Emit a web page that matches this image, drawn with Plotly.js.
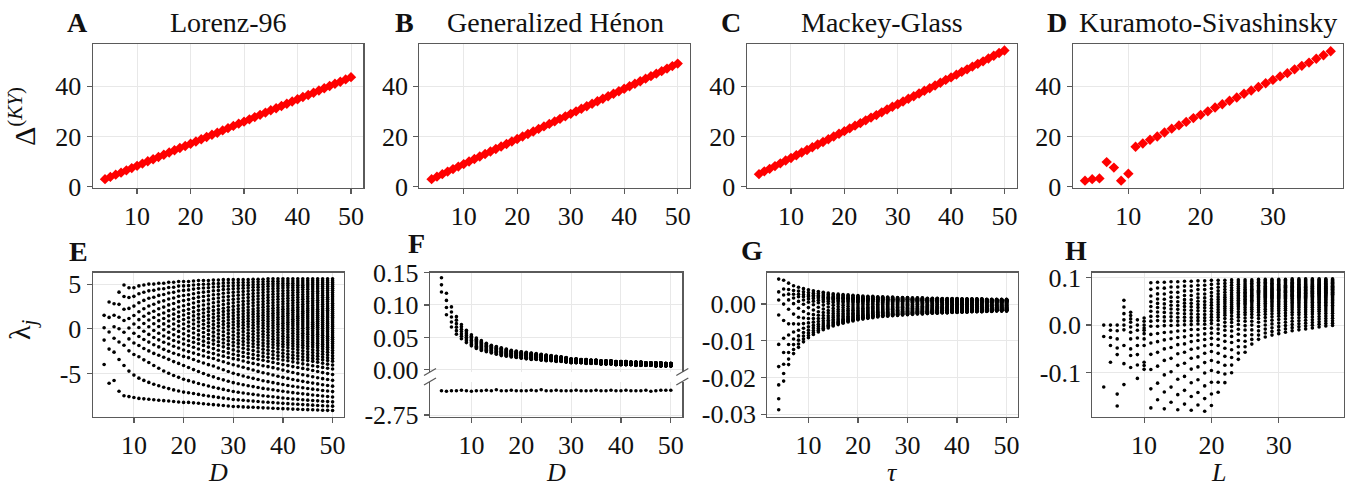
<!DOCTYPE html>
<html>
<head>
<meta charset="utf-8">
<script src="https://cdn.plot.ly/plotly-3.0.1.min.js"></script>
<style>html,body{margin:0;padding:0;background:#fff}#chart{width:1352px;height:489px}</style>
</head>
<body>
<div id="chart"></div>
<script>
// ---------------- DATA ----------------
const dims = [4,5,6,7,8,9,10,11,12,13,14,15,16,17,18,19,20,21,22,23,24,25,26,27,28,29,30,31,32,33,34,35,36,37,38,39,40,41,42,43,44,45,46,47,48,49,50];
const ksL = [4,5,6,7,8,9,10,11,12,13,14,15,16,17,18,19,20,21,22,23,24,25,26,27,28,29,30,31,32,33,34,35,36,37,38];

// Top row: Kaplan-Yorke dimension
const kyLorenz = [3.0,3.9,4.8,5.6,6.5,7.4,8.3,9.2,10.1,10.9,11.8,12.7,13.6,14.5,15.4,16.2,17.1,18.0,18.9,19.8,20.7,21.5,22.4,23.3,24.2,25.1,25.9,26.8,27.7,28.6,29.5,30.4,31.2,32.1,33.0,33.9,34.8,35.7,36.5,37.4,38.3,39.2,40.1,41.0,41.8,42.7,43.6];
const kyHenon = [3.0,4.0,5.0,6.0,7.0,8.0,9.0,10.0,11.0,12.0,13.0,14.0,15.0,16.0,17.0,18.0,19.0,20.0,21.0,22.0,23.0,24.0,25.0,26.0,27.0,28.0,29.0,30.0,31.0,32.0,33.0,34.0,35.0,36.0,37.0,38.0,39.0,40.0,41.0,42.0,43.0,44.0,45.0,46.0,47.0,48.0,49.0];
const kyMackey = [5.0,6.1,7.1,8.2,9.3,10.4,11.4,12.5,13.6,14.6,15.7,16.8,17.8,18.9,20.0,21.1,22.1,23.2,24.3,25.3,26.4,27.5,28.5,29.6,30.7,31.8,32.8,33.9,35.0,36.0,37.1,38.2,39.2,40.3,41.4,42.5,43.5,44.6,45.7,46.7,47.8,48.9,49.9,51.0,52.1,53.2,54.2];
const kyKS = [2.4,3.0,3.3,9.8,7.6,2.4,5.2,15.9,17.2,18.7,20.0,21.6,23.1,24.4,25.8,27.3,28.6,30.0,31.5,32.8,34.2,35.5,37.0,38.3,39.7,41.2,42.5,43.9,45.2,46.7,48.1,49.4,50.9,52.3,53.9];

// E: Lorenz-96 spectrum (largest / smallest exponent per D, spectrum shape)
const l96Max = [1.5,3.0,2.8,4.1,4.9,4.6,4.6,4.8,4.9,5.0,5.0,5.1,5.1,5.2,5.2,5.3,5.3,5.3,5.35,5.4,5.4,5.4,5.45,5.45,5.5,5.5,5.5,5.5,5.5,5.5,5.55,5.55,5.55,5.6,5.6,5.6,5.6,5.6,5.6,5.6,5.6,5.6,5.6,5.6,5.6,5.6,5.6];
const l96Min = [-4.0,-6.1,-5.8,-7.0,-7.5,-7.6,-7.7,-7.8,-7.85,-7.9,-7.95,-8.0,-8.05,-8.1,-8.15,-8.2,-8.25,-8.25,-8.3,-8.35,-8.4,-8.45,-8.5,-8.55,-8.6,-8.65,-8.7,-8.72,-8.75,-8.78,-8.8,-8.83,-8.86,-8.88,-8.9,-8.93,-8.95,-8.97,-9.0,-9.02,-9.04,-9.06,-9.08,-9.1,-9.12,-9.14,-9.15];
const l96ShapeU = [0,0.1,0.2,0.3,0.4,0.5,0.6,0.7,0.8,0.84,0.9,0.95,1.0];
const l96ShapeG = [0,0.07,0.15,0.23,0.3,0.37,0.45,0.53,0.63,0.69,0.82,0.92,1.0];

// F: generalized Henon spectrum (positive band top / bottom, negative exponent)
const henTop = [0.142,0.118,0.097,0.082,0.070,0.061,0.054,0.049,0.045,0.041,0.038,0.036,0.034,0.032,0.030,0.029,0.028,0.027,0.026,0.025,0.024,0.023,0.022,0.021,0.020,0.019,0.017,0.017,0.016,0.016,0.015,0.015,0.014,0.014,0.014,0.013,0.013,0.013,0.012,0.012,0.012,0.011,0.011,0.011,0.011,0.010,0.010];
const henBot = [0.120,0.085,0.066,0.055,0.048,0.042,0.037,0.033,0.030,0.028,0.026,0.024,0.022,0.021,0.020,0.019,0.018,0.017,0.016,0.016,0.015,0.014,0.014,0.013,0.013,0.012,0.011,0.011,0.011,0.010,0.010,0.010,0.009,0.009,0.009,0.008,0.008,0.008,0.008,0.007,0.007,0.007,0.007,0.006,0.006,0.006,0.006];
const henNeg = [-2.700,-2.701,-2.700,-2.700,-2.699,-2.700,-2.701,-2.700,-2.700,-2.699,-2.700,-2.698,-2.700,-2.700,-2.699,-2.700,-2.700,-2.700,-2.699,-2.700,-2.698,-2.700,-2.700,-2.699,-2.700,-2.700,-2.700,-2.699,-2.700,-2.700,-2.700,-2.699,-2.700,-2.700,-2.699,-2.700,-2.700,-2.699,-2.700,-2.700,-2.700,-2.699,-2.701,-2.700,-2.699,-2.699,-2.699];

// G: Mackey-Glass spectrum
const mgTop = [0.0068,0.0065,0.0057,0.0050,0.0046,0.0042,0.0039,0.0036,0.0034,0.0032,0.0030,0.0028,0.0027,0.0026,0.0025,0.0024,0.0023,0.0022,0.0021,0.0021,0.0020,0.0020,0.0019,0.0019,0.0018,0.0018,0.0018,0.0017,0.0017,0.0017,0.0016,0.0016,0.0016,0.0015,0.0015,0.0015,0.0015,0.0014,0.0014,0.0014,0.0014,0.0014,0.0013,0.0013,0.0013,0.0013,0.0013];
const mgBot = [-0.0288,-0.0210,-0.0165,-0.0135,-0.0118,-0.0103,-0.0092,-0.0083,-0.0076,-0.0070,-0.0065,-0.0060,-0.0056,-0.0052,-0.0049,-0.0046,-0.0043,-0.0041,-0.0039,-0.0037,-0.0035,-0.0034,-0.0033,-0.0032,-0.0031,-0.0030,-0.0029,-0.0028,-0.0027,-0.0027,-0.0026,-0.0025,-0.0025,-0.0024,-0.0024,-0.0023,-0.0023,-0.0022,-0.0022,-0.0021,-0.0021,-0.0021,-0.0020,-0.0020,-0.0019,-0.0019,-0.0019];
const mgCount = [9,10,11,12,13,14,15,16,17,18,19,20,21,22,23,24,25,26,27,28,29,30,31,32,33,34,35,36,37,38,39,40,41,42,43,44,45,46,47,48,49,50,51,52,53,54,55];
const mgShape = [0,0.098,0.16,0.275,0.50,0.67,0.81,0.916,1.0];

// H: Kuramoto-Sivashinsky spectrum
const ksSmall = {
  4:[0.0,-0.024,-0.130],
  5:[0.0,-0.011,-0.026,-0.043,-0.078],
  6:[0.0,-0.012,-0.029,-0.048,-0.062,-0.145,-0.170],
  7:[0.052,0.038,0.024,0.011,0.0,-0.010,-0.043,-0.081,-0.125],
  8:[0.027,0.020,0.013,0.006,-0.004,-0.015,-0.029,-0.050,-0.064,-0.089],
  9:[0.011,0.0,-0.011,-0.027,-0.043,-0.062,-0.084,-0.112],
  10:[0.015,0.008,0.0,-0.006,-0.011,-0.018,-0.029,-0.043,-0.078,-0.085,-0.093]
};
const ksBigL = [11,12,13,14,15,16,17,18,19,20,21,22,23,24,25,26,27,28,29,30,31,32,33,34,35,36,37,38];
const ksTop = [0.089,0.090,0.090,0.091,0.091,0.092,0.092,0.093,0.093,0.094,0.094,0.094,0.095,0.095,0.095,0.095,0.096,0.096,0.096,0.096,0.096,0.097,0.097,0.097,0.097,0.097,0.097,0.097];
const ksBot = [-0.174,-0.157,-0.176,-0.162,-0.178,-0.166,-0.179,-0.168,-0.181,-0.169,-0.141,-0.121,-0.100,-0.072,-0.057,-0.040,-0.030,-0.025,-0.021,-0.018,-0.015,-0.012,-0.010,-0.008,-0.006,-0.004,-0.002,-0.001];
const ksCount = [15,16,17,18,19,20,21,22,23,24,25,26,27,28,29,30,31,32,33,34,35,36,37,38,39,40,41,42];
const ksShape = [0,0.053,0.106,0.152,0.19,0.228,0.269,0.307,0.348,0.413,0.481,0.572,0.693,0.848,1.0];

// ---------------- HELPERS ----------------
const W = 1352, H = 489;
const px = x => x / W;
const py = y => (H - y) / H;
function interpKnots(us, gs, u) {
  for (let i = 1; i < us.length; i++) {
    if (u <= us[i]) { const t = (u - us[i-1]) / (us[i] - us[i-1]); return gs[i-1] + t * (gs[i] - gs[i-1]); }
  }
  return gs[gs.length - 1];
}
function evenKnots(gs) { return gs.map((_, i) => i / (gs.length - 1)); }

// ---------------- TRACES ----------------
const traces = [];
const red = {symbol:'diamond', size:8, color:'#ff0000', line:{width:0}};
traces.push({x:dims, y:kyLorenz, mode:'markers', marker:red, xaxis:'x', yaxis:'y'});
traces.push({x:dims, y:kyHenon, mode:'markers', marker:red, xaxis:'x2', yaxis:'y2'});
traces.push({x:dims, y:kyMackey, mode:'markers', marker:red, xaxis:'x3', yaxis:'y3'});
traces.push({x:ksL, y:kyKS, mode:'markers', marker:red, xaxis:'x4', yaxis:'y4'});

const dot = {size:3.6, color:'#000', line:{width:0}};
// E
{ const xs=[], ys=[];
  dims.forEach((d, i) => { const n = d;
    for (let j = 0; j < n; j++) { const g = interpKnots(l96ShapeU, l96ShapeG, j/(n-1));
      xs.push(d); ys.push(l96Max[i] - g*(l96Max[i]-l96Min[i])); } });
  traces.push({x:xs, y:ys, mode:'markers', marker:dot, xaxis:'x5', yaxis:'y5'}); }
// F
{ const xs=[], ys=[];
  dims.forEach((d, i) => { const n = d - 1;
    for (let j = 0; j < n; j++) { xs.push(d); ys.push(henBot[i] + (j/(n-1))*(henTop[i]-henBot[i])); } });
  traces.push({x:xs, y:ys, mode:'markers', marker:dot, xaxis:'x6', yaxis:'y6', cliponaxis:false});
  traces.push({x:dims, y:henNeg, mode:'markers', marker:dot, xaxis:'x7', yaxis:'y7'}); }
// G
{ const xs=[], ys=[]; const ku = evenKnots(mgShape);
  dims.forEach((d, i) => { const n = mgCount[i];
    for (let j = 0; j < n; j++) { const g = interpKnots(ku, mgShape, j/(n-1));
      xs.push(d); ys.push(mgTop[i] - g*(mgTop[i]-mgBot[i])); } });
  traces.push({x:xs, y:ys, mode:'markers', marker:dot, xaxis:'x8', yaxis:'y8'}); }
// H
{ const xs=[], ys=[]; const ku = evenKnots(ksShape);
  Object.keys(ksSmall).forEach(k => ksSmall[k].forEach(v => { xs.push(+k); ys.push(v); }));
  ksBigL.forEach((L, i) => { const n = ksCount[i];
    for (let j = 0; j < n; j++) { const g = interpKnots(ku, ksShape, j/(n-1));
      xs.push(L); ys.push(ksTop[i] - g*(ksTop[i]-ksBot[i])); } });
  traces.push({x:xs, y:ys, mode:'markers', marker:dot, xaxis:'x9', yaxis:'y9'}); }

// ---------------- LAYOUT ----------------
const SERIF = 'Liberation Serif';
const spine = '#5a5a5a', grid = '#e8e8e8';
const tickFont = {family:SERIF, size:26, color:'#111'};
function axis(dom, range, tv, tt, extra) {
  return Object.assign({domain:dom, range:range, tickvals:tv, ticktext:tt, showgrid:true, gridcolor:grid, gridwidth:1,
    zeroline:false, showline:true, linecolor:spine, linewidth:1.2, mirror:true, ticks:'outside', ticklen:5,
    tickcolor:spine, tickwidth:1.2, tickfont:tickFont, fixedrange:true}, extra || {});
}
const xr = [1.7, 52.3], xrK = [2.3, 39.7];
const xt = [10,20,30,40,50], xtK = [10,20,30];
const topY = [py(187.7), py(44)];
const botY = [py(416.7), py(272.5)];
const yTopRange = [-0.4, 56.8];
const yTopT = [0,20,40];

const layout = {
  width:W, height:H, margin:{l:0,r:0,t:0,b:0}, showlegend:false,
  paper_bgcolor:'#fff', plot_bgcolor:'#fff',
  font:{family:SERIF, size:26, color:'#111'},
  xaxis:  axis([px(92.7), px(363.3)], xr, xt, xt.map(String), {anchor:'y'}),
  yaxis:  axis(topY, yTopRange, yTopT, yTopT.map(String), {anchor:'x'}),
  xaxis2: axis([px(419.3), px(690)], xr, xt, xt.map(String), {anchor:'y2'}),
  yaxis2: axis(topY, yTopRange, yTopT, yTopT.map(String), {anchor:'x2'}),
  xaxis3: axis([px(746.7), px(1016.7)], xr, xt, xt.map(String), {anchor:'y3'}),
  yaxis3: axis(topY, yTopRange, yTopT, yTopT.map(String), {anchor:'x3'}),
  xaxis4: axis([px(1072.7), px(1343)], xrK, xtK, xtK.map(String), {anchor:'y4'}),
  yaxis4: axis(topY, yTopRange, yTopT, yTopT.map(String), {anchor:'x4'}),
  xaxis5: axis([px(92.7), px(344)], xr, xt, xt.map(String), {anchor:'y5'}),
  yaxis5: axis(botY, [-9.85, 6.3], [5,0,-5], ['5','0','-5'], {anchor:'x5'}),
  xaxis6: axis([px(430), px(682.3)], xr, xt, xt.map(String), {anchor:'y6', side:'top', mirror:false, ticks:'', showticklabels:false}),
  yaxis6: axis([py(371.5), py(272.5)], [-0.0025, 0.15], [0,0.05,0.10,0.15], ['0.00','0.05','0.10','0.15'], {anchor:'x6'}),
  xaxis7: axis([px(430), px(682.3)], xr, xt, xt.map(String), {anchor:'y7', mirror:false}),
  yaxis7: axis([py(416.7), py(381.7)], [-2.7535, -2.6814], [-2.75], ['-2.75'], {anchor:'x7'}),
  xaxis8: axis([px(767.3), px(1018)], xr, xt, xt.map(String), {anchor:'y8'}),
  yaxis8: axis(botY, [-0.0307, 0.0086], [0,-0.01,-0.02,-0.03], ['0.00','-0.01','-0.02','-0.03'], {anchor:'x8'}),
  xaxis9: axis([px(1092.3), px(1344)], xrK, xtK, xtK.map(String), {anchor:'y9'}),
  yaxis9: axis(botY, [-0.1925, 0.1105], [0.1,0,-0.1], ['0.1','0.0','-0.1'], {anchor:'x9'}),
  annotations: [], shapes: []
};

const titleFont = {family:SERIF, size:28, color:'#111'};
const letterFont = {family:SERIF, size:28, color:'#111'};
function ann(text, x, y, font, extra) {
  layout.annotations.push(Object.assign({text:text, x:px(x), y:py(y), xref:'paper', yref:'paper', showarrow:false,
    xanchor:'center', yanchor:'middle', font:font}, extra || {}));
}
// panel titles
ann('Lorenz-96', 228, 23, titleFont);
ann('Generalized Hénon', 555, 23, titleFont);
ann('Mackey-Glass', 881.7, 23, titleFont);
ann('Kuramoto-Sivashinsky', 1207.5, 23, titleFont);
// letters
[['A',77,23],['B',404,23],['C',731,23],['D',1057,23],['E',78,251.5],['F',416,243],['G',752,250.5],['H',1076,250.5]]
  .forEach(l => ann('<b>' + l[0] + '</b>', l[1], l[2], letterFont));
// axis labels
const labFont = {family:SERIF, size:30, color:'#111'};
const xLabFont = {family:SERIF, size:26, color:'#111'};
ann('Δ<sup>(<i>KY</i>)</sup>', 22, 117, labFont, {textangle:-90});
ann('λ<sub><i>j</i></sub>', 22, 330, labFont, {textangle:-90});
ann('<i>D</i>', 218, 472, xLabFont);
ann('<i>D</i>', 556, 472, xLabFont);
ann('<i>τ</i>', 892.7, 472, xLabFont);
ann('<i>L</i>', 1218, 472, xLabFont);

// broken-axis marks for panel F
[430, 682.3].forEach(xc => {
  [372, 381.5].forEach(yc => {
    layout.shapes.push({type:'line', xref:'paper', yref:'paper', x0:px(xc-6), y0:py(yc+3.5), x1:px(xc+6), y1:py(yc-3.5),
      line:{color:spine, width:1.3}});
  });
});

Plotly.newPlot('chart', traces, layout, {staticPlot:true, displayModeBar:false});
</script>
</body>
</html>
